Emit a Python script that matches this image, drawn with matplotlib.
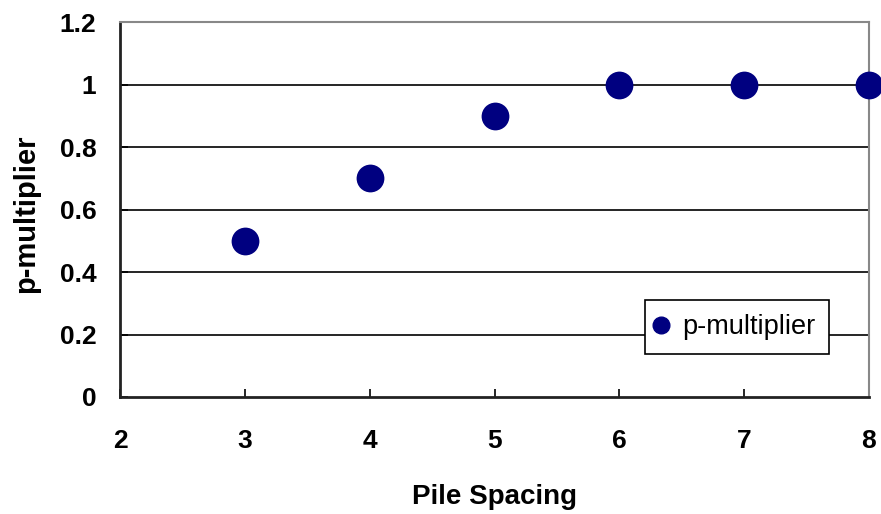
import matplotlib
matplotlib.use("Agg")
import matplotlib.pyplot as plt
from matplotlib.lines import Line2D

pile_spacing = [3, 4, 5, 6, 7, 8]
p_multiplier = [0.5, 0.7, 0.9, 1.0, 1.0, 1.0]
x_ticks = [2, 3, 4, 5, 6, 7, 8]
y_ticks = [0, 0.2, 0.4, 0.6, 0.8, 1.0, 1.2]
y_tick_labels = ["0", "0.2", "0.4", "0.6", "0.8", "1", "1.2"]

plt.rcParams['font.family'] = ['Liberation Sans', 'DejaVu Sans']

fig = plt.figure(figsize=(8.81, 5.14), dpi=100)
ax = fig.add_axes([120/881, 1-397/514, (869-120)/881, (397-22)/514])

for y in y_ticks[1:-1]:
    ax.axhline(y, color='black', lw=1.2, zorder=1)

ax.scatter(pile_spacing, p_multiplier, s=400, color='#000080', zorder=3, clip_on=False,
           linewidths=0)

ax.set_xlim(2, 8)
ax.set_ylim(0, 1.2)
ax.set_xticks(x_ticks)
ax.set_yticks(y_ticks)
ax.set_yticklabels(y_tick_labels)
ax.tick_params(axis='both', direction='in', length=6, width=1.2, color='black',
               labelsize=19)
ax.tick_params(axis='x', pad=23)
ax.tick_params(axis='y', pad=17)
for lbl in ax.get_xticklabels() + ax.get_yticklabels():
    lbl.set_fontweight('bold')

for s in ['left', 'bottom']:
    ax.spines[s].set_color('#222222')
    ax.spines[s].set_linewidth(2)
for s in ['top', 'right']:
    ax.spines[s].set_color('#888888')
    ax.spines[s].set_linewidth(1.5)

ax.set_xlabel('Pile Spacing', fontsize=20, fontweight='bold')
ax.set_ylabel('p-multiplier', fontsize=21, fontweight='bold')
ax.xaxis.set_label_coords(0.5, -(497-397)/375, transform=ax.transAxes)
ax.xaxis.label.set_va('center')
ax.yaxis.set_label_coords(-(120-26)/749, 0.49, transform=ax.transAxes)
ax.yaxis.label.set_va('center')

handle = Line2D([], [], marker='o', linestyle='none', color='#000080', markersize=12)
leg = ax.legend([handle], ['p-multiplier'], loc='upper left',
                bbox_to_anchor=((645-120)/749, (397-300)/375),
                fontsize=19.5, frameon=True, fancybox=False, framealpha=1,
                edgecolor='black', handletextpad=0.7, borderpad=0.52,
                borderaxespad=0, handlelength=0.15)
leg.get_frame().set_linewidth(1.2)

fig.savefig('out.png', dpi=100)
